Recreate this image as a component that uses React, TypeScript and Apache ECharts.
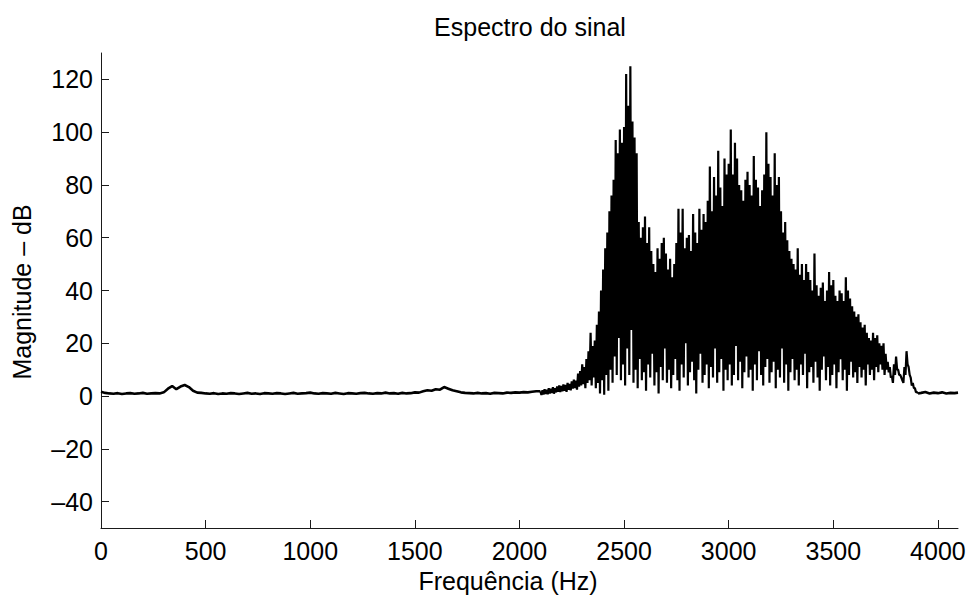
import React, { useEffect, useRef } from "react";
import * as echarts from "echarts";

// ---- data ----
const chartTitle = "Espectro do sinal";
const xAxisTitle = "Frequência (Hz)";
const yAxisTitle = "Magnitude – dB";

const xTickValues = [0, 500, 1000, 1500, 2000, 2500, 3000, 3500, 4000];
const yTickValues = [-40, -20, 0, 20, 40, 60, 80, 100, 120];
const freqMax = 4096;

// quiet band 0 .. 2080 Hz, one value every 20 Hz (dB)
const quietStep = 20;
const quietMag = [
  1.6, 1.2, 1.0, 0.9, 1.1, 0.8, 1.0, 1.1, 0.9, 1.0,
  1.2, 0.9, 1.0, 1.1, 1.0, 1.4, 2.8, 3.8, 2.6, 3.6,
  4.2, 3.4, 2.0, 1.3, 1.2, 1.0, 0.9, 1.1, 0.8, 1.0,
  0.9, 1.1, 1.0, 0.8, 1.0, 1.2, 0.9, 1.0, 0.8, 1.1,
  1.0, 0.9, 1.1, 1.0, 0.8, 1.0, 1.2, 0.9, 1.0, 1.1,
  1.3, 1.0, 0.9, 1.1, 1.0, 0.9, 1.2, 1.0, 0.8, 1.1,
  1.0, 0.9, 1.1, 1.2, 1.0, 0.9, 1.1, 1.0, 1.3, 1.0,
  1.1, 0.9, 1.2, 1.0, 1.1, 1.4, 1.3, 1.8, 2.2, 2.0,
  2.6, 2.4, 3.4, 2.8, 2.2, 1.8, 1.4, 1.2, 1.1, 1.0,
  1.2, 1.0, 1.1, 0.9, 1.2, 1.1, 1.0, 1.3, 1.2, 1.4,
  1.3, 1.5, 1.4, 1.6, 1.8,
];

// active band 2100 .. 3900 Hz, every 10 Hz: local maxima (at f) and minima (at f + 5)
const activeStart = 2100;
const activeStep = 10;
const activePeaks = [
  1.8, 2.2, 2.6, 2.4, 3.0, 2.8, 3.4, 3.0, 3.6, 4.0,
  3.8, 4.4, 4.2, 5.0, 4.6, 5.6, 6.2, 5.8, 8.5, 9.5,
  12, 11, 14, 17, 24, 19, 21, 27, 32, 40,
  48, 56, 62, 70, 76, 82, 97, 92, 101, 96,
  102, 122, 110, 125, 104, 98, 92, 66, 60, 64,
  68, 58, 64, 55, 50, 47, 56, 52, 58, 60,
  54, 48, 52, 45, 50, 58, 71, 62, 71, 56,
  60, 61, 55, 69, 62, 58, 71, 63, 69, 66,
  74, 87, 70, 83, 76, 93, 79, 72, 90, 84,
  88, 101, 84, 96, 90, 80, 78, 74, 82, 85,
  80, 76, 91, 82, 79, 72, 78, 84, 100, 88,
  83, 76, 92, 80, 83, 70, 62, 66, 59, 55,
  52, 50, 48, 56, 46, 50, 44, 50, 47, 44,
  40, 54, 42, 38, 41, 43, 36, 40, 47, 42,
  44, 38, 36, 40, 39, 36, 45, 40, 37, 34,
  32, 30, 31, 28, 26, 27, 24, 22, 21, 24,
  22, 23, 20, 19, 20, 16, 13, 11, 7.5, 12,
  15, 10, 8, 6, 11, 17, 11, 7, 5, 3,
  1.5,
];
const activeTroughs = [
  0.4, 0.6, 0.8, 0.7, 1.0, 1.2, 0.9, 1.4, 1.6, 1.5,
  1.8, 2.0, 1.6, 2.4, 2.2, 2.8, 3.0, 2.4, 3.6, 4.0,
  4.5, 3.0, 5.0, 6.0, 4.0, 7.0, 3.0, 5.0, 1.0, 6.0,
  0.5, 8, 2, 10, 5, 15, 8, 22, 6, 12,
  4, 18, 8, 25, 5, 10, 3, 14, 6, 9,
  2, 12, 7, 16, 4, 9, 1, 11, 6, 18,
  5, 10, 3, 8, 14, 6, 2, 12, 7, 20,
  4, 9, 13, 6, 1, 10, 16, 5, 8, 12,
  3, 11, 7, 18, 5, 9, 14, 2, 10, 6,
  12, 4, 8, 19, 6, 13, 3, 9, 15, 7,
  10, 2, 12, 6, 17, 8, 4, 11, 14, 5,
  9, 13, 3, 10, 7, 18, 5, 12, 2, 9,
  14, 6, 10, 4, 12, 8, 16, 3, 9, 11,
  5, 13, 7, 2, 10, 15, 6, 11, 4, 8,
  12, 3, 9, 14, 6, 10, 2, 8, 13, 7,
  9, 5, 11, 7, 10, 4, 12, 8, 10, 6,
  11, 9, 12, 10, 8, 10, 9, 7, 5, 8,
  10, 8, 7, 5, 8, 12, 8, 4, 3, 1.5,
  1,
];

// tail 3920 .. 4096 Hz
const tailFreqs = [3920, 3940, 3960, 3980, 4000, 4020, 4040, 4060, 4080, 4096];
const tailMag = [1.2, 1.5, 1.0, 1.3, 1.1, 1.4, 1.0, 1.2, 1.1, 1.3];

const FONT = "'Liberation Sans', Arial, Helvetica, sans-serif";

export default function App() {
  const ref = useRef<HTMLDivElement>(null);

  useEffect(() => {
    if (!ref.current) return;
    document.body.style.margin = "0";
    document.body.style.overflow = "hidden";
    const chart = echarts.init(ref.current, undefined, { renderer: "svg" });

    const quietData: number[][] = quietMag.map((v, i) => [i * quietStep, v]);
    quietData.push([activeStart, activePeaks[0]]);

    const activeData: number[][] = [];
    activePeaks.forEach((p, i) => {
      const f = activeStart + i * activeStep;
      activeData.push([f, p]);
      activeData.push([f + activeStep / 2, activeTroughs[i]]);
    });

    const lastF = activeStart + (activePeaks.length - 1) * activeStep + activeStep / 2;
    const tailData: number[][] = [[lastF, activeTroughs[activeTroughs.length - 1]]];
    tailFreqs.forEach((f, i) => tailData.push([f, tailMag[i]]));

    const fmt = (v: number) => (v < 0 ? "\u2013" + Math.abs(v) : String(v));

    chart.setOption({
      animation: false,
      backgroundColor: "#ffffff",
      grid: { left: 101, right: 13, top: 53, bottom: 68, containLabel: false },
      xAxis: {
        type: "value",
        min: 0,
        max: freqMax,
        axisLine: { show: true, onZero: false, lineStyle: { color: "#1a1a1a", width: 1 } },
        axisTick: { show: true, inside: true, length: 8, customValues: xTickValues, lineStyle: { color: "#1a1a1a" } },
        axisLabel: {
          customValues: xTickValues,
          formatter: fmt,
          color: "#000",
          fontSize: 25,
          fontFamily: FONT,
          margin: 10,
        },
        splitLine: { show: false },
      },
      yAxis: {
        type: "value",
        min: -50,
        max: 130,
        axisLine: { show: true, onZero: false, lineStyle: { color: "#1a1a1a", width: 1 } },
        axisTick: { show: true, inside: true, length: 8, customValues: yTickValues, lineStyle: { color: "#1a1a1a" } },
        axisLabel: {
          customValues: yTickValues,
          formatter: fmt,
          color: "#000",
          fontSize: 25,
          fontFamily: FONT,
          margin: 8,
        },
        splitLine: { show: false },
      },
      graphic: [
        {
          type: "text",
          x: 530,
          y: 27,
          style: { text: chartTitle, fill: "#000", font: `25px ${FONT}`, textAlign: "center", textVerticalAlign: "middle" },
        },
        {
          type: "text",
          x: 508,
          y: 581,
          style: { text: xAxisTitle, fill: "#000", font: `25px ${FONT}`, textAlign: "center", textVerticalAlign: "middle" },
        },
        {
          type: "text",
          x: 22,
          y: 292,
          rotation: Math.PI / 2,
          style: { text: yAxisTitle, fill: "#000", font: `25px ${FONT}`, textAlign: "center", textVerticalAlign: "middle" },
        },
      ],
      series: [
        {
          name: "quiet",
          type: "line",
          data: quietData,
          showSymbol: false,
          symbol: "none",
          lineStyle: { color: "#000", width: 2.6 },
        },
        {
          name: "active",
          type: "line",
          data: activeData,
          showSymbol: false,
          symbol: "none",
          lineStyle: { color: "#000", width: 2.2 },
        },
        {
          name: "tail",
          type: "line",
          data: tailData,
          showSymbol: false,
          symbol: "none",
          lineStyle: { color: "#000", width: 2.6 },
        },
      ],
    });

    return () => chart.dispose();
  }, []);

  return <div ref={ref} style={{ position: "absolute", left: 0, top: 0, width: 971, height: 596 }} />;
}
